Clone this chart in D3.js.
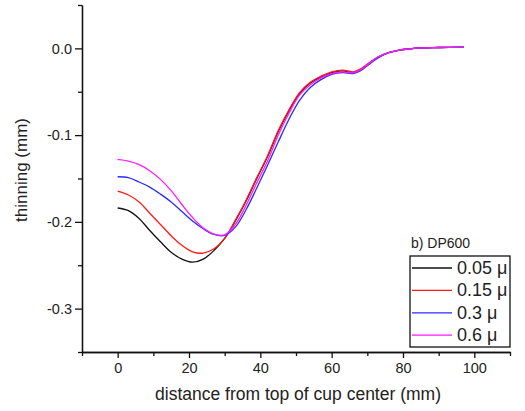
<!DOCTYPE html>
<html>
<head>
<meta charset="utf-8">
<script src="https://cdn.jsdelivr.net/npm/d3@7"></script>
<style>
  body { margin: 0; background: #fff; }
  text { font-family: "Liberation Sans", Arial, sans-serif; fill: #222; }
</style>
</head>
<body>
<div id="container"></div>
<script>
const w = 525, h = 411;
const margin = {top: 5, right: 15, bottom: 59, left: 82};

// DATA - distance (mm) and thinning (mm) per friction coefficient
const distance = [0, 3, 6, 9, 12, 15, 18, 21, 24, 27, 30, 33, 36, 39, 42, 45, 48, 51, 54, 57, 60, 63, 66, 68, 70, 73, 76, 79, 82, 85, 90, 97];
const mu005 = [-0.184, -0.187, -0.196, -0.210, -0.223, -0.235, -0.243, -0.2465, -0.243, -0.233, -0.219, -0.199, -0.176, -0.150, -0.125, -0.096, -0.072, -0.052, -0.040, -0.033, -0.028, -0.026, -0.028, -0.025, -0.019, -0.010, -0.005, -0.002, -0.0005, 0.0005, 0.001, 0.0015];
const mu015 = [-0.1645, -0.169, -0.177, -0.190, -0.203, -0.216, -0.227, -0.2345, -0.236, -0.231, -0.219, -0.198, -0.175, -0.149, -0.124, -0.095, -0.071, -0.051, -0.039, -0.032, -0.027, -0.025, -0.027, -0.024, -0.018, -0.010, -0.005, -0.002, -0.0005, 0.0005, 0.001, 0.0015];
const mu03 = [-0.148, -0.149, -0.154, -0.160, -0.168, -0.177, -0.188, -0.199, -0.208, -0.2145, -0.2155, -0.206, -0.186, -0.161, -0.135, -0.108, -0.082, -0.060, -0.045, -0.036, -0.030, -0.028, -0.029, -0.026, -0.020, -0.011, -0.005, -0.002, -0.0005, 0.0005, 0.001, 0.0015];
const mu06 = [-0.128, -0.130, -0.134, -0.141, -0.151, -0.164, -0.180, -0.195, -0.207, -0.214, -0.215, -0.203, -0.181, -0.155, -0.130, -0.100, -0.075, -0.054, -0.042, -0.034, -0.029, -0.027, -0.028, -0.025, -0.019, -0.010, -0.005, -0.002, -0.0005, 0.0005, 0.001, 0.0015];
const seriesNames = ["0.05 \u03bc", "0.15 \u03bc", "0.3 \u03bc", "0.6 \u03bc"];
const seriesValues = [mu005, mu015, mu03, mu06];
const xMajorTicks = [0, 20, 40, 60, 80, 100];
const xMinorTicks = [-10, 10, 30, 50, 70, 90, 110];
const yMajorTicks = [0, -0.1, -0.2, -0.3];
const yMinorTicks = [0.05, -0.05, -0.15, -0.25, -0.35];

const colors = ["#111111", "#ff1a1a", "#2a2aff", "#ff1aff"];

// CHART
const chart = d3.select('#container')
                .append('svg')
                .attr('width', w)
                .attr('height', h);

const x = d3.scaleLinear()
            .domain([-10, 110])
            .range([margin.left, w - margin.right]);
const y = d3.scaleLinear()
            .domain([-0.35, 0.05])
            .range([h - margin.bottom, margin.top]);

// AXES - minor ticks first (no labels), then major ticks with labels
const xMinor = chart.append('g')
                    .attr('transform', `translate(0, ${h - margin.bottom})`)
                    .call(d3.axisBottom(x).tickValues(xMinorTicks).tickSize(4).tickFormat('').tickSizeOuter(0));
const yMinor = chart.append('g')
                    .attr('transform', `translate(${margin.left}, 0)`)
                    .call(d3.axisLeft(y).tickValues(yMinorTicks).tickSize(4).tickFormat('').tickSizeOuter(0));

const xAxis = chart.append('g')
                   .attr('class', 'major')
                   .attr('transform', `translate(0, ${h - margin.bottom})`)
                   .call(d3.axisBottom(x).tickValues(xMajorTicks).tickSize(6).tickPadding(5).tickSizeOuter(0));
const yAxis = chart.append('g')
                   .attr('class', 'major')
                   .attr('transform', `translate(${margin.left}, 0)`)
                   .call(d3.axisLeft(y).tickValues(yMajorTicks).tickSize(7).tickPadding(3).tickSizeOuter(0)
                     .tickFormat(d => d3.format('.1f')(d).replace('\u2212', '-')));

chart.selectAll('.domain, .tick line').attr('stroke', '#111').attr('stroke-width', 1.3);
chart.selectAll('.major .tick text')
     .style('font-size', '14.5px')
     .style('font-family', '"Liberation Sans", Arial, sans-serif')
     .attr('fill', '#222');

// TITLES
chart.append('text')
     .attr('x', (margin.left + w - margin.right) / 2 + 2)
     .attr('y', 400)
     .attr('text-anchor', 'middle')
     .style('font-size', '17.5px')
     .text('distance from top of cup center (mm)');

chart.append('text')
     .attr('transform', 'translate(27, 170) rotate(-90)')
     .attr('text-anchor', 'middle')
     .style('font-size', '17px')
     .text('thinning (mm)');

// LINES
const line = d3.line()
               .x((d, i) => x(distance[i]))
               .y(d => y(d))
               .curve(d3.curveCatmullRom.alpha(0.5));

chart.selectAll('path.series')
     .data(seriesValues).enter()
     .append('path')
     .attr('class', 'series')
     .attr('d', d => line(d))
     .attr('fill', 'none')
     .attr('stroke', (d, i) => colors[i])
     .attr('stroke-width', 1.3);

// LEGEND
chart.append('text')
     .attr('x', 411)
     .attr('y', 248)
     .style('font-size', '14px')
     .text('b) DP600');

const legend = chart.append('g').attr('transform', 'translate(410, 256)');
legend.append('rect')
      .attr('width', 100)
      .attr('height', 91)
      .attr('fill', '#fff')
      .attr('stroke', '#111')
      .attr('stroke-width', 1.3);

const rows = legend.selectAll('g.row')
                   .data(seriesNames).enter()
                   .append('g')
                   .attr('transform', (d, i) => `translate(0, ${12 + i * 22.4})`);
rows.append('line')
    .attr('x1', 2).attr('x2', 42)
    .attr('stroke', (d, i) => colors[i])
    .attr('stroke-width', 1.3);
rows.append('text')
    .attr('x', 47)
    .attr('y', 6)
    .style('font-size', '18px')
    .text(d => d);
</script>
</body>
</html>
